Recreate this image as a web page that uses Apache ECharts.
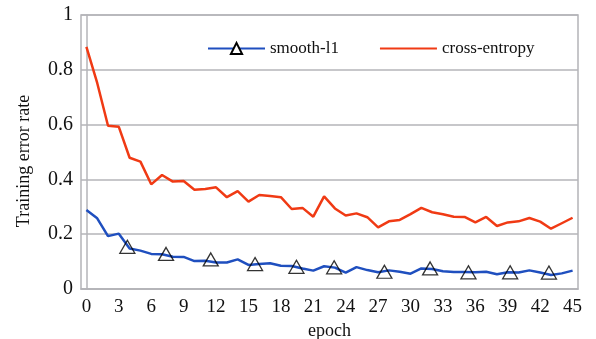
<!DOCTYPE html>
<html><head><meta charset="utf-8">
<script src="https://cdn.jsdelivr.net/npm/echarts@6/dist/echarts.min.js"></script>
<style>html,body{margin:0;padding:0;background:#fff}#c{width:596px;height:339px}</style>
</head><body><div id="c"></div>
<script>
const epochs = Array.from({length: 46}, (_, i) => String(i));
const smoothL1 = [0.288,0.258,0.193,0.202,0.148,0.140,0.128,0.127,0.118,0.117,0.102,0.103,0.097,0.097,0.108,0.088,0.091,0.094,0.085,0.084,0.075,0.067,0.083,0.078,0.060,0.080,0.069,0.061,0.068,0.063,0.056,0.075,0.073,0.065,0.062,0.062,0.061,0.063,0.054,0.061,0.060,0.068,0.060,0.051,0.057,0.067];
const crossEntropy = [0.884,0.752,0.596,0.592,0.479,0.465,0.382,0.416,0.392,0.394,0.362,0.365,0.371,0.335,0.357,0.319,0.343,0.339,0.335,0.292,0.296,0.264,0.338,0.294,0.268,0.276,0.262,0.225,0.247,0.252,0.273,0.296,0.280,0.273,0.264,0.263,0.243,0.263,0.230,0.243,0.247,0.259,0.246,0.220,0.240,0.260];
const markerPos = [3.79,7.37,11.51,15.61,19.44,22.93,27.58,31.81,35.36,39.22,42.81];
const markerVal = [0.154,0.128,0.108,0.091,0.081,0.079,0.063,0.075,0.061,0.061,0.060];
const yTicks = {min: 0, max: 1, interval: 0.2};

const font = 'Liberation Serif';
const blue = '#1f4fbf', red = '#f03a14', gridGray = '#b4b4b8';
const chart = echarts.init(document.getElementById('c'), null, {renderer: 'canvas'});
chart.setOption({
  animation: false,
  backgroundColor: '#fff',
  grid: {left: 81, right: 18, top: 15, bottom: 50, show: true, borderColor: gridGray, borderWidth: 1.5,
         containLabel: false, outerBoundsMode: 'none'},
  legend: {
    left: 202, top: 35, itemWidth: 57, itemHeight: 14, itemGap: 40,
    textStyle: {fontFamily: font, fontSize: 17, color: '#111', padding: [0, 0, 0, 0]},
    data: ['smooth-l1', {name: 'cross-entropy', itemStyle: {color: 'rgba(0,0,0,0)', borderWidth: 0}}]
  },
  xAxis: [{
    type: 'category', data: epochs, boundaryGap: true,
    name: 'epoch', nameLocation: 'middle', nameGap: 28,
    nameTextStyle: {fontFamily: font, fontSize: 18, color: '#111'},
    axisLine: {lineStyle: {color: gridGray, width: 1.5}},
    axisTick: {show: false},
    axisLabel: {interval: 2, fontFamily: font, fontSize: 19, color: '#111', margin: 9}
  }, {
    type: 'value', min: -0.5, max: 45.5, show: false
  }],
  yAxis: {
    type: 'value', min: yTicks.min, max: yTicks.max, interval: yTicks.interval,
    name: 'Training error rate', nameLocation: 'middle', nameGap: 48,
    nameTextStyle: {fontFamily: font, fontSize: 18, color: '#111', padding: [0, 0, 0, -18]},
    axisLine: {show: true, lineStyle: {color: gridGray, width: 1.5}},
    axisTick: {show: false},
    splitLine: {lineStyle: {color: gridGray, width: 1.5}},
    axisLabel: {fontFamily: font, fontSize: 20, color: '#111', margin: 8}
  },
  series: [{
    name: 'smooth-l1', type: 'line', data: smoothL1, xAxisIndex: 0,
    symbol: 'triangle', symbolSize: [15, 13], showSymbol: false,
    itemStyle: {color: '#fff', borderColor: '#000', borderWidth: 1.3},
    lineStyle: {color: blue, width: 2.5}
  }, {
    name: 'cross-entropy', type: 'line', data: crossEntropy, xAxisIndex: 0,
    symbol: 'none', itemStyle: {color: red},
    lineStyle: {color: red, width: 2.5}
  }, {
    name: 'markers', type: 'scatter', xAxisIndex: 1,
    data: markerPos.map((p, i) => [p, markerVal[i]]),
    symbol: 'triangle', symbolSize: [15, 13],
    itemStyle: {color: 'rgba(255,255,255,0)', borderColor: '#000', borderWidth: 1.3},
    z: 5
  }]
});
</script></body></html>
